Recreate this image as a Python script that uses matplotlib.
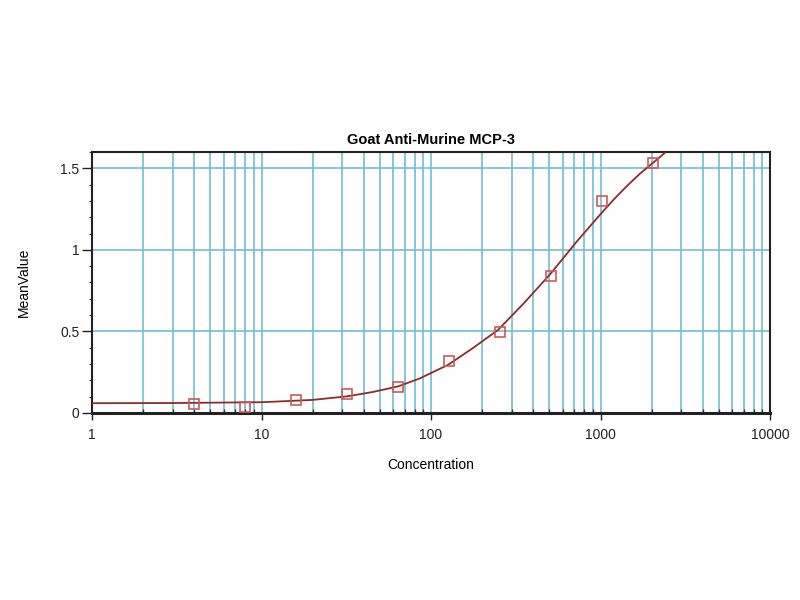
import matplotlib
matplotlib.use('Agg')
from matplotlib import pyplot as plt
from matplotlib.ticker import LogLocator, FixedLocator, MultipleLocator

# measured points
conc = [4, 8, 16, 32, 64, 128, 256, 512, 1024, 2048]
mean_value = [0.057, 0.035, 0.078, 0.117, 0.162, 0.318, 0.498, 0.841, 1.302, 1.532]

# fitted curve
curve_x = [1, 3, 10, 20, 32, 45, 64, 86, 126, 178, 249, 351, 504, 723, 993, 1200, 1427,
           1700, 2048, 2400]
curve_y = [0.060, 0.061, 0.066, 0.080, 0.102, 0.128, 0.163, 0.212, 0.295, 0.400, 0.510,
           0.670, 0.850, 1.050, 1.215, 1.310, 1.390, 1.465, 1.535, 1.595]

x_ticks = [1, 10, 100, 1000, 10000]
x_tick_labels = ['1', '10', '100', '1000', '10000']
y_ticks = [0, 0.5, 1, 1.5]
y_tick_labels = ['0', '0.5', '1', '1.5']

plt.rcParams['font.family'] = ['Liberation Sans', 'DejaVu Sans']

fig = plt.figure(figsize=(8, 6), dpi=100)
ax = fig.add_axes([0.115, 0.3117, 0.8475, 0.435])

grid_color = '#72bdd2'
ax.set_xscale('log')
ax.set_xlim(1, 10000)
ax.set_ylim(0, 1.6)

ax.xaxis.set_major_locator(FixedLocator(x_ticks))
ax.xaxis.set_minor_locator(LogLocator(base=10, subs=range(2, 10), numticks=20))
ax.set_xticks(x_ticks)
ax.set_xticklabels(x_tick_labels)
ax.xaxis.set_minor_formatter(plt.NullFormatter())
ax.set_yticks(y_ticks)
ax.set_yticklabels(y_tick_labels)
ax.yaxis.set_minor_locator(MultipleLocator(0.1))

ax.grid(True, which='major', axis='both', color=grid_color, linewidth=1.2)
ax.grid(True, which='minor', axis='x', color=grid_color, linewidth=1.2)
ax.set_axisbelow(True)

ax.tick_params(axis='y', which='major', direction='out', length=7, width=1,
               labelsize=10, colors='#222222', pad=2)
ax.tick_params(axis='x', which='major', direction='out', length=5, width=1,
               labelsize=10, colors='#222222', pad=6)
ax.tick_params(axis='x', which='minor', direction='in', length=3, width=1, color='#333333')
ax.tick_params(axis='y', which='minor', direction='out', length=2, width=0.8, color='#333333')

for side in ['left', 'right', 'top']:
    ax.spines[side].set_linewidth(1.5)
    ax.spines[side].set_color('#222222')
ax.spines['bottom'].set_linewidth(2.2)
ax.spines['bottom'].set_color('#222222')

ax.plot(curve_x, curve_y, color='#8e2a2a', linewidth=1.3, zorder=3, clip_on=True)
ax.plot(conc, mean_value, linestyle='none', marker='s', markersize=7,
        markerfacecolor='none', markeredgecolor='#cc5a5a', markeredgewidth=1.2, zorder=4)

ax.set_title('Goat Anti-Murine MCP-3', fontsize=10.5, fontweight='bold', pad=6)
ax.set_xlabel('Concentration', fontsize=10, labelpad=11)
ax.set_ylabel('MeanValue', fontsize=10, labelpad=21)

plt.savefig('out.png', dpi=100)
